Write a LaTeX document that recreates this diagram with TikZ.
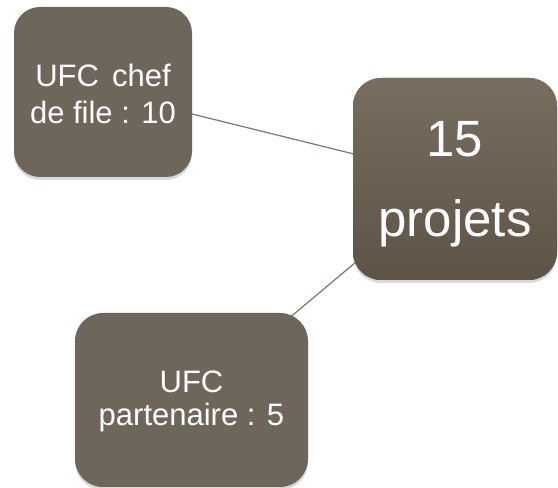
\documentclass[tikz,border=0pt]{standalone}
\usepackage{fontspec}
\setmainfont{Liberation Sans}
\usepackage{tikz}
\usetikzlibrary{shadows,backgrounds}
\definecolor{taupe}{HTML}{6E665A}
\definecolor{taupetop}{HTML}{776E60}
\definecolor{taupebot}{HTML}{5D5447}
\definecolor{linkgray}{HTML}{7E7767}

\begin{document}
\begin{tikzpicture}[x=1pt,y=1pt,
    box/.style={fill=taupe,rounded corners=26pt,text=white,align=center,inner sep=0pt,
      text depth=0pt,drop shadow={shadow xshift=0pt,shadow yshift=-3pt,opacity=0.3}},
    link/.style={draw=linkgray,line width=1.2pt}]
    \useasboundingbox (0,0) rectangle (558,488);
    \node[box,minimum width=178pt,minimum height=170pt,text height=64pt,
      font=\fontsize{31}{37}\selectfont] (chef) at (103,396) {UFC\hspace{13pt}chef\\de file : 10};
    \node[box,top color=taupetop,bottom color=taupebot,rounded corners=28pt,
      minimum width=204pt,minimum height=202pt,text height=116pt,
      font=\fontsize{51}{80}\selectfont] (projets) at (455,309) {15\\projets};
    \node[box,rounded corners=28pt,minimum width=233pt,minimum height=174pt,text height=52pt,
      font=\fontsize{31}{33}\selectfont] (partenaire) at (191.5,88) {UFC\\partenaire : 5};
    \begin{scope}[on background layer]
      \draw[link] (chef.center) -- (projets.center);
      \draw[link] (partenaire.center) -- (projets.center);
    \end{scope}
  \end{tikzpicture}
\end{document}
